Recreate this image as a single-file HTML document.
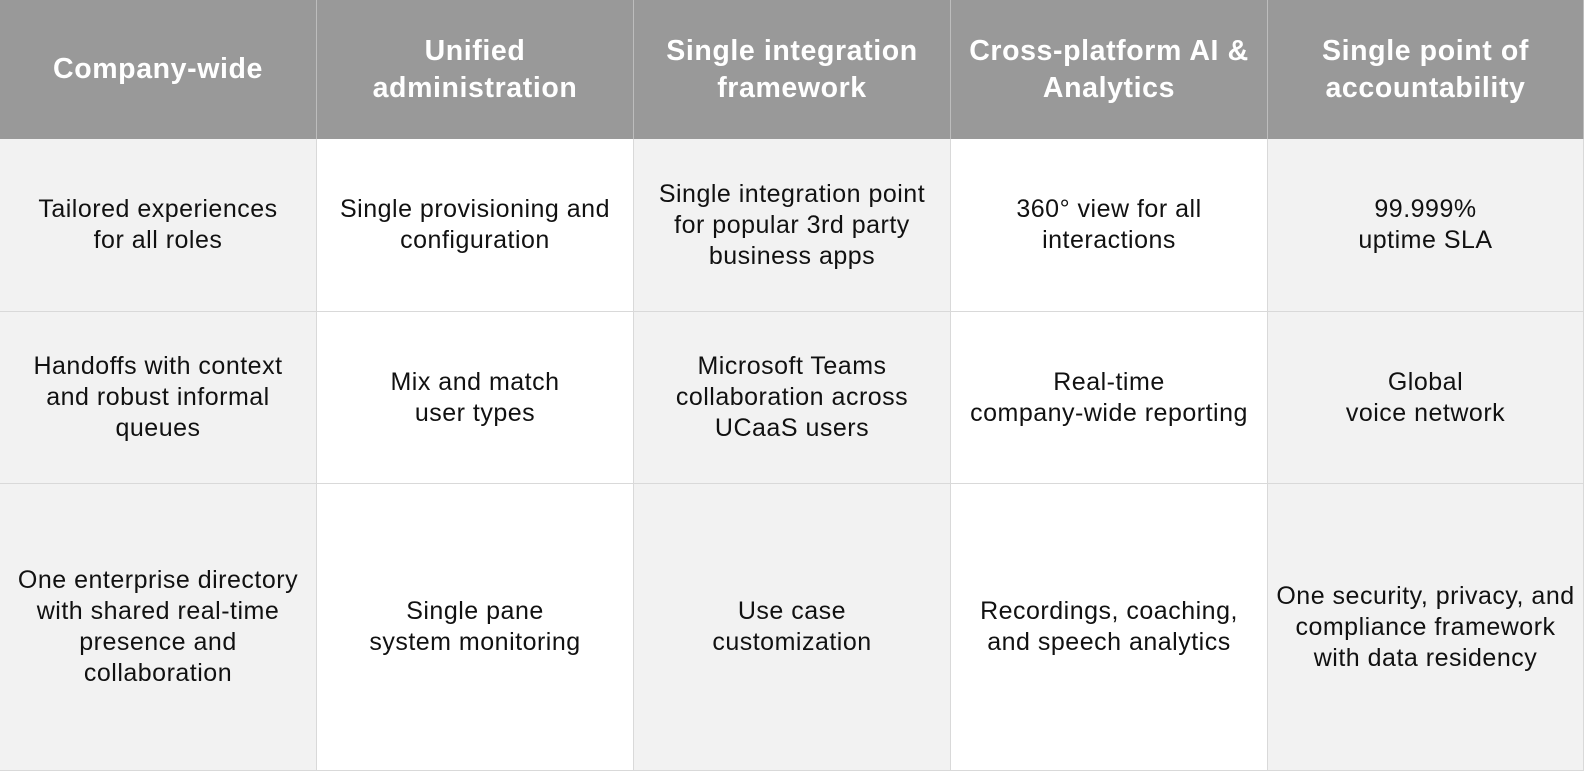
<!DOCTYPE html>
<html><head><style>
body{margin:0;width:1586px;height:773px;background:#fff;overflow:hidden;font-family:"Liberation Sans",Arial,sans-serif;}
.t{position:absolute;left:0;top:0;display:grid;grid-template-columns:317px 317px 317px 317px 316px;grid-template-rows:139px 173px 172px 287px;}
.c{display:flex;align-items:center;justify-content:center;text-align:center;box-sizing:border-box;border-right:1.5px solid #d9d9d9;border-bottom:1.5px solid #d9d9d9;font-size:25px;line-height:31px;letter-spacing:0.5px;color:#111;}
.h{background:#999;color:#fff;font-weight:bold;font-size:28.5px;line-height:37px;letter-spacing:0.6px;border-right:1.5px solid #bdbdbd;border-bottom:none;}
.g{background:#f2f2f2}.w{background:#fff}
</style></head><body>
<div class="t">
<div class="c h">Company-wide</div>
<div class="c h">Unified<br>administration</div>
<div class="c h">Single integration<br>framework</div>
<div class="c h">Cross-platform AI &amp;<br>Analytics</div>
<div class="c h">Single point of<br>accountability</div>

<div class="c g">Tailored experiences<br>for all roles</div>
<div class="c w">Single provisioning and<br>configuration</div>
<div class="c g">Single integration point<br>for popular 3rd party<br>business apps</div>
<div class="c w">360° view for all<br>interactions</div>
<div class="c g">99.999%<br>uptime SLA</div>

<div class="c g">Handoffs with context<br>and robust informal<br>queues</div>
<div class="c w">Mix and match<br>user types</div>
<div class="c g">Microsoft Teams<br>collaboration across<br>UCaaS users</div>
<div class="c w">Real-time<br>company-wide reporting</div>
<div class="c g">Global<br>voice network</div>

<div class="c g">One enterprise directory<br>with shared real-time<br>presence and<br>collaboration</div>
<div class="c w">Single pane<br>system monitoring</div>
<div class="c g">Use case<br>customization</div>
<div class="c w">Recordings, coaching,<br>and speech analytics</div>
<div class="c g">One security, privacy, and<br>compliance framework<br>with data residency</div>
</div>
</body></html>
